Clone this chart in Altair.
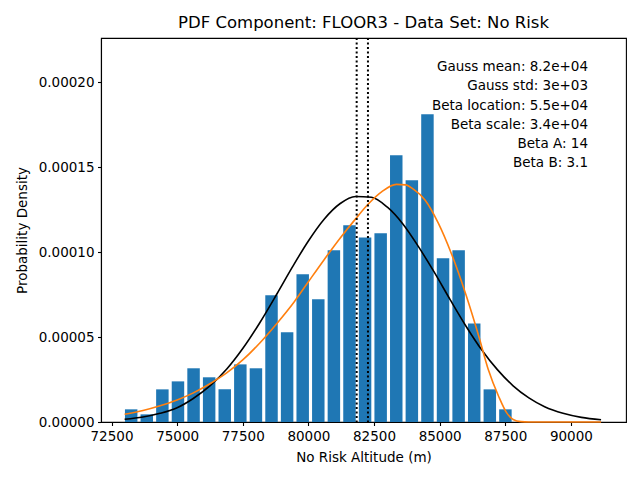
import altair as alt
import pandas as pd

# Histogram (bin centres and densities)
bin_centers = [73250, 73844, 74438, 75032, 75626, 76220, 76814, 77408, 78002, 78596,
               79190, 79784, 80378, 80972, 81566, 82160, 82754, 83348, 83942, 84536,
               85130, 85724, 86318, 86912, 87506]
densities = [7.45e-6, 4.5e-6, 1.92e-5, 2.39e-5, 3.16e-5, 2.63e-5, 1.92e-5, 3.39e-5, 3.16e-5, 7.45e-5,
             5.28e-5, 8.69e-5, 7.22e-5, 1.01e-4, 1.157e-4, 1.086e-4, 1.11e-4, 1.569e-4, 1.422e-4, 1.81e-4,
             9.63e-5, 1.01e-4, 5.8e-5, 1.92e-5, 7.45e-6]
BIN_WIDTH = 594

# Gaussian fit curve
gauss_x = [73000, 73700, 74350, 75000, 75600, 76250, 76900, 77500, 78150, 78800,
           79400, 80000, 80600, 81200, 81800, 82400, 83000, 83600, 84200, 84800,
           85400, 86000, 86600, 87200, 87800, 88400, 89000, 89700, 90400, 91150]
gauss_y = [1.6e-6, 2.9e-6, 5.1e-6, 8.4e-6, 1.37e-5, 2.12e-5, 3.13e-5, 4.32e-5, 5.84e-5, 7.53e-5,
           9.14e-5, 1.065e-4, 1.193e-4, 1.284e-4, 1.327e-4, 1.322e-4, 1.265e-4, 1.165e-4, 1.03e-4, 8.8e-5,
           7.2e-5, 5.65e-5, 4.25e-5, 3.08e-5, 2.13e-5, 1.42e-5, 9.0e-6, 5.1e-6, 2.7e-6, 1.3e-6]

# Beta fit curve
beta_x = [73000, 73700, 74350, 75000, 75600, 76250, 76900, 77500, 78150, 78800,
          79450, 80000, 80600, 81200, 81800, 82300, 82800, 83350, 83700, 84000,
          84450, 84950, 85450, 86000, 86500, 86850, 87250, 87550, 87800, 88100,
          88400, 91150]
beta_y = [4.5e-6, 6.8e-6, 9.6e-6, 1.3e-5, 1.7e-5, 2.25e-5, 2.9e-5, 3.65e-5, 4.65e-5, 5.8e-5,
          7.05e-5, 8.25e-5, 9.55e-5, 1.08e-4, 1.195e-4, 1.285e-4, 1.355e-4, 1.398e-4, 1.395e-4, 1.37e-4,
          1.305e-4, 1.17e-4, 9.9e-5, 7.5e-5, 5.0e-5, 3.1e-5, 1.5e-5, 5.5e-6, 1.5e-6, 2e-7,
          0.0, 0.0]

# Vertical dotted reference lines
ref_lines = [81840, 82270]

# Parameter annotations
param_names = ["Gauss mean", "Gauss std", "Beta location", "Beta scale", "Beta A", "Beta B"]
param_values = ["8.2e+04", "3e+03", "5.5e+04", "3.4e+04", "14", "3.1"]

x_ticks = [72500, 75000, 77500, 80000, 82500, 85000, 87500, 90000]
y_ticks = [0.0, 0.00005, 0.0001, 0.00015, 0.0002]

FONT = "DejaVu Sans"
TITLE = "PDF Component: FLOOR3 - Data Set: No Risk"
x_scale = alt.Scale(domain=[72100, 92100], nice=False, zero=False)
y_scale = alt.Scale(domain=[0, 0.0002259], nice=False)

x_axis = alt.Axis(values=x_ticks, format="d", title="No Risk Altitude (m)")
y_axis = alt.Axis(values=y_ticks, format=".5f", title="Probability Density")

hist_df = pd.DataFrame({"center": bin_centers, "density": densities})
bars = alt.Chart(hist_df).transform_calculate(
    left=f"datum.center - {BIN_WIDTH * 0.4}",
    right=f"datum.center + {BIN_WIDTH * 0.4}",
).mark_bar(color="#1f77b4").encode(
    x=alt.X("left:Q", scale=x_scale, axis=x_axis),
    x2="right:Q",
    y=alt.Y("density:Q", scale=y_scale, axis=y_axis),
    y2=alt.datum(0),
)

gauss_df = pd.DataFrame({"x": gauss_x, "y": gauss_y})
gauss_line = alt.Chart(gauss_df).mark_line(color="black", strokeWidth=1.6, interpolate="monotone").encode(
    x=alt.X("x:Q", scale=x_scale),
    y=alt.Y("y:Q", scale=y_scale),
)

beta_df = pd.DataFrame({"x": beta_x, "y": beta_y})
beta_line = alt.Chart(beta_df).mark_line(color="#ff7f0e", strokeWidth=1.6, interpolate="monotone").encode(
    x=alt.X("x:Q", scale=x_scale),
    y=alt.Y("y:Q", scale=y_scale),
)

ref_df = pd.DataFrame({"x": ref_lines})
rules = alt.Chart(ref_df).mark_rule(color="black", strokeWidth=2, strokeDash=[2, 2.5]).encode(
    x=alt.X("x:Q", scale=x_scale),
)

annot_text = "\n".join(f"{n}: {v}" for n, v in zip(param_names, param_values))
annot = alt.Chart(pd.DataFrame({"t": [annot_text]})).mark_text(
    align="right", baseline="middle", lineBreak="\n", lineHeight=19.2,
    font=FONT, fontSize=13.5, color="black",
).encode(
    x=alt.value(487), y=alt.value(29.3), text="t:N"
)

title = alt.Chart(pd.DataFrame({"t": [TITLE]})).mark_text(
    align="center", baseline="alphabetic", font=FONT, fontSize=16.5, color="black",
).encode(
    x=alt.value(262.5), y=alt.value(-10), text="t:N"
)

chart = alt.layer(bars, gauss_line, beta_line, rules, annot, title).properties(
    width=525,
    height=384,
    autosize=alt.AutoSizeParams(type="none"),
    padding={"left": 93, "top": 30, "right": 6, "bottom": 50},
).configure_view(
    stroke="black", strokeWidth=1.1
).configure_axis(
    grid=False,
    domainColor="black", domainWidth=1.1,
    tickColor="black", tickWidth=1.1, tickSize=3.5,
    labelFont=FONT, labelFontSize=13.5, labelColor="black", labelPadding=3.5,
    titleFont=FONT, titleFontSize=13.5, titleFontWeight="normal", titleColor="black",
).configure_axisX(
    titlePadding=8, labelFlush=False
).configure_axisY(
    titlePadding=9
)

chart.save("out.html", embed_options={"renderer": "svg", "actions": False})
